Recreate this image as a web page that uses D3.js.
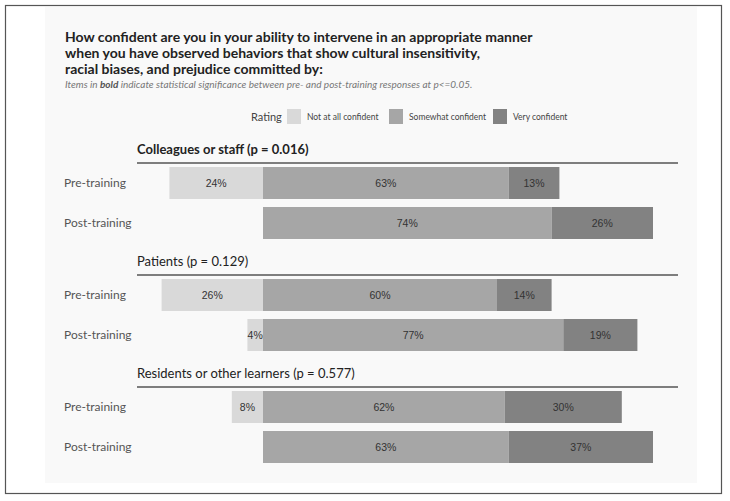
<!DOCTYPE html>
<html>
<head>
<meta charset="utf-8">
<script src="https://cdn.jsdelivr.net/npm/d3@7"></script>
<style>
  body { margin: 0; background: #fff; }
  text { font-family: Lato, "Open Sans", sans-serif; }
</style>
</head>
<body>
<div id="chart"></div>
<script>
// groups, rows and the three rating series (percent)
const groups = ['Colleagues or staff (p = 0.016)', 'Patients (p = 0.129)', 'Residents or other learners (p = 0.577)'];
const groupBold = [true, false, false];
const times = ['Pre-training', 'Post-training'];
const ratings = ['Not at all confident', 'Somewhat confident', 'Very confident'];
const notAtAll = [24, 0, 26, 4, 8, 0];
const somewhat = [63, 74, 60, 77, 62, 63];
const veryConf = [13, 26, 14, 19, 30, 37];

const width = 730;
const height = 501;

const svg = d3.select('#chart')
  .append('svg')
  .attr('width', width)
  .attr('height', height);

// outer frame + light panel
svg.append('rect')
  .attr('x', 5.5).attr('y', 5.5)
  .attr('width', 716).attr('height', 488)
  .attr('fill', '#fff').attr('stroke', '#555').attr('stroke-width', 1.2);
svg.append('rect')
  .attr('x', 45).attr('y', 7)
  .attr('width', 652).attr('height', 476)
  .attr('fill', '#f9f9f9');

// title
const title = ['How confident are you in your ability to intervene in an appropriate manner',
  'when you have observed behaviors that show cultural insensitivity,',
  'racial biases, and prejudice committed by:'];
svg.append('g').selectAll('text')
  .data(title)
  .join('text')
    .attr('x', 65)
    .attr('y', (d, i) => 42 + i * 16)
    .attr('font-size', '14px')
    .attr('font-weight', 'bold')
    .attr('fill', '#222')
    .text(d => d);

const sub = svg.append('text')
  .attr('x', 65).attr('y', 88)
  .attr('font-size', '10px')
  .attr('font-style', 'italic')
  .attr('fill', '#777');
sub.append('tspan').text('Items in ');
sub.append('tspan').attr('font-weight', 'bold').attr('fill', '#555').text('bold');
sub.append('tspan').text(' indicate statistical significance between pre- and post-training responses at p<=0.05.');

const color = d3.scaleOrdinal()
  .domain(ratings)
  .range(['#d9d9d9', '#a6a6a6', '#828282']);

// legend
const legend = svg.append('g');
legend.append('text')
  .attr('x', 251).attr('y', 121)
  .attr('font-size', '11px').attr('fill', '#444')
  .text('Rating');
const legX = [287, 389, 493];
const leg = legend.selectAll('g.item')
  .data(ratings)
  .join('g')
    .attr('class', 'item')
    .attr('transform', (d, i) => `translate(${legX[i]},109)`);
leg.append('rect')
  .attr('width', 14).attr('height', 15)
  .attr('fill', d => color(d));
leg.append('text')
  .attr('x', 20).attr('y', 11)
  .attr('font-size', '8.5px').attr('fill', '#444')
  .text(d => d);

// scales
const x = d3.scaleLinear()
  .domain([0, 100])
  .range([263, 653]);

const yGroup = d3.scaleBand()
  .domain(groups)
  .range([139, 475]);

const yRow = d3.scaleBand()
  .domain(times)
  .range([28, 100])
  .paddingInner(0.2);

// build stacked rows, not-at-all stacked to the left of zero
const rows = [];
groups.forEach((g, gi) => {
  times.forEach((t, ti) => {
    const k = gi * 2 + ti;
    const vals = [notAtAll[k], somewhat[k], veryConf[k]];
    const starts = [-vals[0], 0, vals[1]];
    rows.push({
      group: g, time: t,
      segs: ratings.map((r, ri) => ({ rating: r, v: vals[ri], x0: starts[ri], x1: starts[ri] + vals[ri] }))
        .filter(s => s.v > 0)
    });
  });
});

const gGroup = svg.append('g').selectAll('g')
  .data(groups)
  .join('g')
    .attr('transform', d => `translate(0,${yGroup(d)})`);

gGroup.append('text')
  .attr('x', 137).attr('y', 15)
  .attr('font-size', '13px')
  .attr('font-weight', (d, i) => groupBold[i] ? 'bold' : 'normal')
  .attr('fill', '#222')
  .text(d => d);

gGroup.append('line')
  .attr('x1', 137).attr('x2', 678)
  .attr('y1', 24).attr('y2', 24)
  .attr('stroke', '#555').attr('stroke-width', 1.5);

const gRow = gGroup.selectAll('g.row')
  .data(g => rows.filter(r => r.group === g))
  .join('g')
    .attr('class', 'row')
    .attr('transform', d => `translate(0,${yRow(d.time)})`);

gRow.append('text')
  .attr('x', 64)
  .attr('y', yRow.bandwidth() / 2)
  .attr('dy', '0.35em')
  .attr('font-size', '12px')
  .attr('fill', '#555')
  .text(d => d.time);

const seg = gRow.selectAll('g.seg')
  .data(d => d.segs)
  .join('g')
    .attr('class', 'seg');

seg.append('rect')
  .attr('x', d => x(d.x0))
  .attr('width', d => x(d.x1) - x(d.x0))
  .attr('height', yRow.bandwidth())
  .attr('fill', d => color(d.rating));

seg.append('text')
  .attr('x', d => (x(d.x0) + x(d.x1)) / 2)
  .attr('y', yRow.bandwidth() / 2)
  .attr('dy', '0.35em')
  .attr('text-anchor', 'middle')
  .style('font-family', '"Liberation Sans", Arial, sans-serif')
  .attr('font-size', '10.5px')
  .attr('fill', '#333')
  .text(d => d.v + '%');
</script>
</body>
</html>
